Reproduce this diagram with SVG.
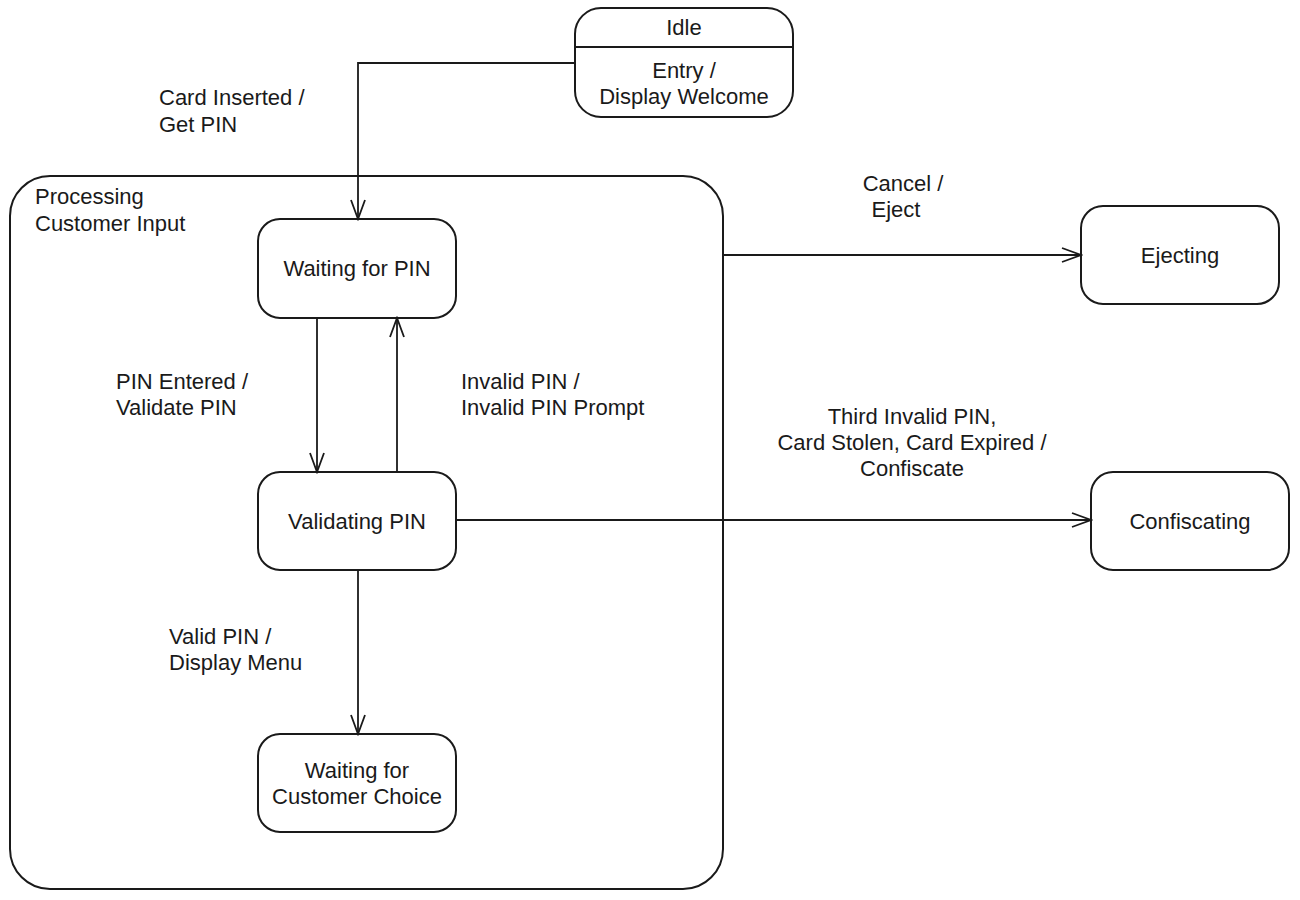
<svg xmlns="http://www.w3.org/2000/svg" width="1300" height="900" viewBox="0 0 1300 900">
  <style>
    .state { fill: #ffffff; stroke: #1a1a1a; stroke-width: 2; }
    .edge { fill: none; stroke: #1a1a1a; stroke-width: 1.8; }
    text { font-family: "Liberation Sans", Arial, sans-serif; font-size: 22px; fill: #1a1a1a; }
    .c { text-anchor: middle; }
  </style>
  <defs>
    <marker id="open" viewBox="0 0 22 20" refX="20" refY="10" markerWidth="22" markerHeight="20" markerUnits="userSpaceOnUse" orient="auto">
      <path d="M1,3 L20,10 L1,17" fill="none" stroke="#1a1a1a" stroke-width="1.8"/>
    </marker>
  </defs>

  <rect width="1300" height="900" fill="#ffffff"/>

  <!-- composite state -->
  <g id="processing">
    <rect class="state" x="10" y="176" width="713" height="713" rx="40"/>
    <text x="35" y="204">Processing</text>
    <text x="35" y="231">Customer Input</text>
  </g>

  <g id="idle">
    <rect class="state" x="575" y="8" width="218" height="109" rx="26"/>
    <line x1="575" y1="47" x2="793" y2="47" stroke="#1a1a1a" stroke-width="2"/>
    <text class="c" x="684" y="35">Idle</text>
    <text class="c" x="684" y="78">Entry /</text>
    <text class="c" x="684" y="104">Display Welcome</text>
  </g>

  <g id="waiting-pin">
    <rect class="state" x="258" y="219" width="198" height="99" rx="22"/>
    <text class="c" x="357" y="276">Waiting for PIN</text>
  </g>

  <g id="validating-pin">
    <rect class="state" x="258" y="472" width="198" height="98" rx="22"/>
    <text class="c" x="357" y="529">Validating PIN</text>
  </g>

  <g id="waiting-choice">
    <rect class="state" x="258" y="734" width="198" height="98" rx="22"/>
    <text class="c" x="357" y="778">Waiting for</text>
    <text class="c" x="357" y="804">Customer Choice</text>
  </g>

  <g id="ejecting">
    <rect class="state" x="1081" y="206" width="198" height="98" rx="22"/>
    <text class="c" x="1180" y="263">Ejecting</text>
  </g>

  <g id="confiscating">
    <rect class="state" x="1091" y="472" width="198" height="98" rx="22"/>
    <text class="c" x="1190" y="529">Confiscating</text>
  </g>

  <g id="connectors">
    <path class="edge" d="M575,63 H358 V219" marker-end="url(#open)"/>
    <path class="edge" d="M317,318 V472" marker-end="url(#open)"/>
    <path class="edge" d="M397,472 V318" marker-end="url(#open)"/>
    <path class="edge" d="M723,255 H1081" marker-end="url(#open)"/>
    <path class="edge" d="M456,520 H1091" marker-end="url(#open)"/>
    <path class="edge" d="M358,570 V734" marker-end="url(#open)"/>

    <text x="159" y="105">Card Inserted /</text>
    <text x="159" y="132">Get PIN</text>
    <text class="c" x="903" y="191">Cancel /</text>
    <text class="c" x="896" y="217">Eject</text>
    <text x="116" y="389">PIN Entered /</text>
    <text x="116" y="415">Validate PIN</text>
    <text x="461" y="389">Invalid PIN /</text>
    <text x="461" y="415">Invalid PIN Prompt</text>
    <text class="c" x="912" y="424">Third Invalid PIN,</text>
    <text class="c" x="912" y="450">Card Stolen, Card Expired /</text>
    <text class="c" x="912" y="476">Confiscate</text>
    <text x="169" y="644">Valid PIN /</text>
    <text x="169" y="670">Display Menu</text>
  </g>
</svg>
